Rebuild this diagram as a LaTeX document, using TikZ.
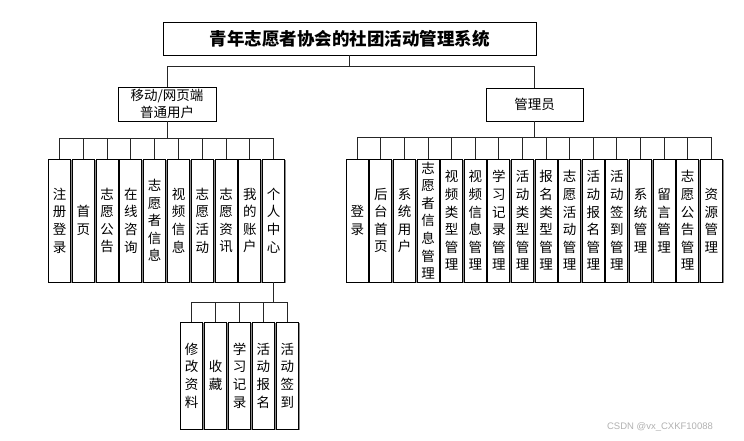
\documentclass[tikz,border=0pt]{standalone}
\usepackage{fontspec}
\setmainfont{Liberation Sans}
\newfontfamily\cjk{Noto Sans CJK SC}
\usetikzlibrary{shadows}
\begin{document}
\begin{tikzpicture}[x=1pt,y=-1pt,
  box/.style={draw=black, line width=0.9pt, fill=white, inner sep=0pt, align=center,
    drop shadow={shadow xshift=1.3pt, shadow yshift=-1.3pt, fill=black!45, opacity=1}},
  vbox/.style={box, minimum width=22pt, minimum height=123pt,
    font=\cjk\fontsize{13.5}{17.6}\selectfont},
  sbox/.style={box, minimum width=22pt, minimum height=107pt,
    font=\cjk\fontsize{13.5}{17.6}\selectfont},
  conn/.style={draw=black!85, line width=1pt}]
\useasboundingbox (0,0) rectangle (744,440);
\fill[white] (0,0) rectangle (744,440);

\node[box, minimum width=373pt, minimum height=33pt, font=\cjk\bfseries\fontsize{17.5}{20}\selectfont] (title) at (349.5,38.5) {青年志愿者协会的社团活动管理系统};
\node[box, minimum width=98pt, minimum height=34pt, font=\cjk\fontsize{13.5}{16.7}\selectfont] (user) at (167,104) {移动/网页端\\普通用户};
\node[box, minimum width=97pt, minimum height=33pt, font=\cjk\fontsize{13.5}{16.7}\selectfont] (admin) at (534.5,104.5) {管理员};

% user children
\foreach \i/\t in {0/注\\册\\登\\录, 1/首\\页, 2/志\\愿\\公\\告, 3/在\\线\\咨\\询, 4/志\\愿\\者\\信\\息, 5/视\\频\\信\\息, 6/志\\愿\\活\\动, 7/志\\愿\\资\\讯, 8/我\\的\\账\\户, 9/个\\人\\中\\心}{
  \node[vbox] (u\i) at ({59.5+23.8*\i},220.5) {\t};
}
% admin children
\foreach \i/\t in {0/登\\录, 1/后\\台\\首\\页, 2/系\\统\\用\\户, 3/志\\愿\\者\\信\\息\\管\\理, 4/视\\频\\类\\型\\管\\理, 5/视\\频\\信\\息\\管\\理, 6/学\\习\\记\\录\\管\\理, 7/活\\动\\类\\型\\管\\理, 8/报\\名\\类\\型\\管\\理, 9/志\\愿\\活\\动\\管\\理, 10/活\\动\\报\\名\\管\\理, 11/活\\动\\签\\到\\管\\理, 12/系\\统\\管\\理, 13/留\\言\\管\\理, 14/志\\愿\\公\\告\\管\\理, 15/资\\源\\管\\理}{
  \node[vbox] (a\i) at ({357.3+23.6*\i},220.5) {\t};
}
% personal center children
\foreach \i/\t in {0/修\\改\\资\\料, 1/收\\藏, 2/学\\习\\记\\录, 3/活\\动\\报\\名, 4/活\\动\\签\\到}{
  \node[sbox] (s\i) at ({191.7+23.9*\i},375.5) {\t};
}

% connectors
\draw[conn] (title.south) -- ++(0,11) -| (user.north);
\draw[conn] (title.south) -- ++(0,11) -| (admin.north);
\foreach \i in {0,...,9}{ \draw[conn] (user.south) -- ++(0,17) -| (u\i.north); }
\foreach \i in {0,...,15}{ \draw[conn] (admin.south) -- ++(0,16.5) -| (a\i.north); }
\foreach \i in {0,...,4}{ \draw[conn] (u9.south) -- ++(0,20) -| (s\i.north); }

\node[text=black!30, font=\fontsize{9.5}{11}\selectfont] (wm) at (660,427) {CSDN @vx\_CXKF10088};
\end{tikzpicture}
\end{document}
